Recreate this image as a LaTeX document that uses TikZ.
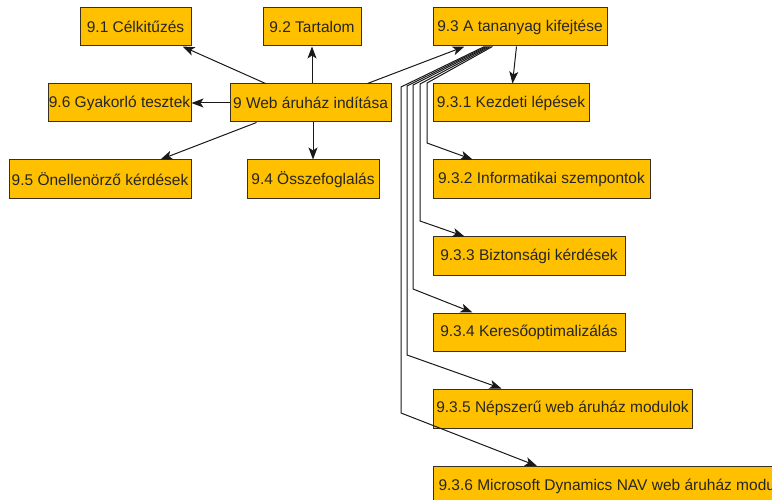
\documentclass[tikz,border=0pt]{standalone}
\usepackage{fontspec}
\setmainfont{Liberation Sans}
\usetikzlibrary{arrows.meta,calc}
\definecolor{boxfill}{HTML}{FFC000}
\definecolor{boxline}{HTML}{3A3020}
\begin{document}
\begin{tikzpicture}[x=1pt,y=-1pt,
  topic/.style={draw=boxline,fill=boxfill,line width=1pt,inner sep=0pt,
    minimum height=38pt,text=black!85,
    font=\fontsize{15.5}{18}\selectfont},
  link/.style={draw=black!90,line width=1pt,
    -{Stealth[length=12pt,width=9pt,inset=3pt]}}]
\clip (0,0) rectangle (772,500);
\fill[white] (0,0) rectangle (772,500);

% central topic and its direct children
\node[topic,minimum width=161pt] (n9)   at (310.5,103)   {9 Web áruház indítása};
\node[topic,minimum width=111pt] (n91)  at (135.5,27)    {9.1 Célkitűzés};
\node[topic,minimum width=98pt]  (n92)  at (312,27)      {9.2 Tartalom};
\node[topic,minimum width=174pt] (n93)  at (520,27)      {9.3 A tananyag kifejtése};
\node[topic,minimum width=132pt,minimum height=39pt] (n94) at (313,179.5) {9.4 Összefoglalás};
\node[topic,minimum width=182pt,minimum height=39pt] (n95) at (100,179.5) {9.5 Önellenörző kérdések};
\node[topic,minimum width=143pt] (n96)  at (119.5,103)   {9.6 Gyakorló tesztek};

% subtopics of 9.3
\node[topic,minimum width=156pt] (n931) at (511,103)     {9.3.1 Kezdeti lépések};
\node[topic,minimum width=217pt,minimum height=39pt] (n932) at (541.5,179.5) {9.3.2 Informatikai szempontok};
\node[topic,minimum width=192pt] (n933) at (529,256)     {9.3.3 Biztonsági kérdések};
\node[topic,minimum width=192pt] (n934) at (529,332)     {9.3.4 Keresőoptimalizálás};
\node[topic,minimum width=259pt,minimum height=39pt] (n935) at (562.5,408.5) {9.3.5 Népszerű web áruház modulok};
\node[topic,anchor=north west,inner xsep=5pt,minimum height=40pt] (n936) at (433,466)
  {9.3.6 Microsoft Dynamics NAV web áruház modulok};

% connectors from the central topic
\draw[link] ($(n9.north west)+(36,0)$) -- ($(n91.south east)-(9,0)$);
\draw[link] (n92.south |- n9.north) -- (n92.south);
\draw[link] (n9.west) -- (n96.east);
\draw[link] ($(n9.south west)+(27,0)$) -- ($(n95.north east)-(31,0)$);
\draw[link] (n94.north |- n9.south) -- (n94.north);
\draw[link] ($(n9.north east)-(24,0)$) -- ($(n93.south west)+(32,0)$);

% connectors from 9.3
\draw[link] ($(n93.south west)+(84,0)$) -- ($(n931.north west)+(80,0)$);
\draw[link] ($(n93.south west)+(60,0)$) -- (427,83) -- (427,143)
  -- ($(n932.north west)+(40,0)$);
\draw[link] ($(n93.south west)+(58,0)$) -- (420,84) -- (420,221)
  -- ($(n933.north west)+(32,0)$);
\draw[link] ($(n93.south west)+(56,0)$) -- (413,85) -- (413,289)
  -- ($(n934.north west)+(40,0)$);
\draw[link] ($(n93.south west)+(54,0)$) -- (407,86) -- (407,355)
  -- ($(n935.north west)+(69,0)$);
\draw[link] ($(n93.south west)+(52,0)$) -- (401,87) -- (401,413)
  -- ($(n936.north west)+(104,0)$);
\end{tikzpicture}
\end{document}
